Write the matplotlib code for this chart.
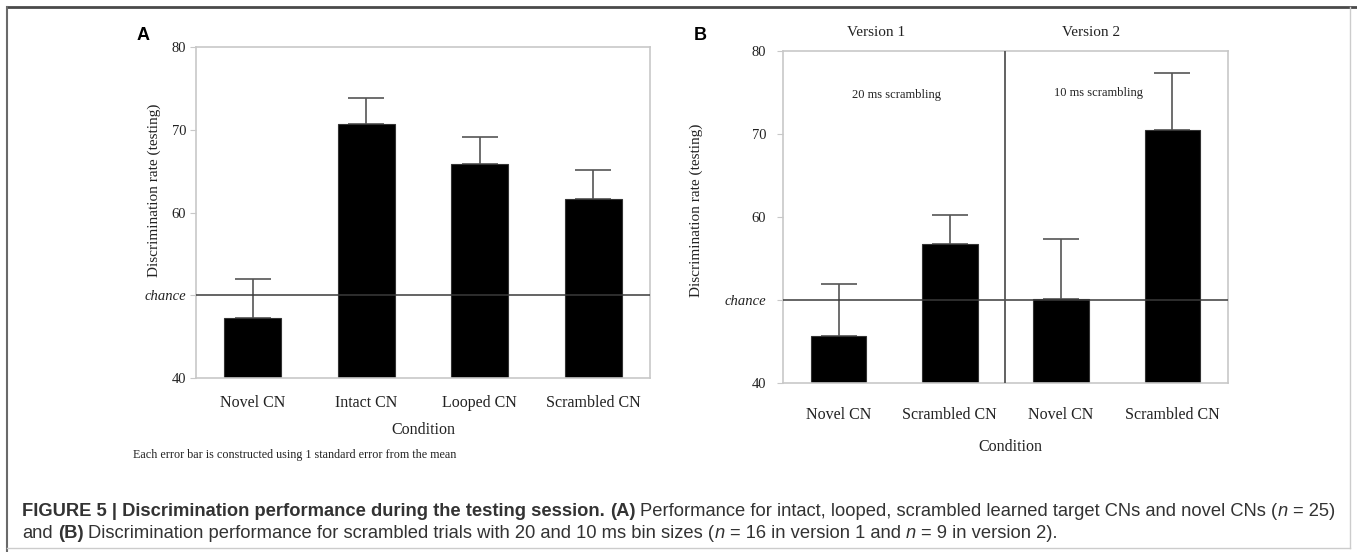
import numpy as np
import matplotlib
matplotlib.use("Agg")
import matplotlib.pyplot as plt
from matplotlib.lines import Line2D
from matplotlib.transforms import IdentityTransform

# --- dados ---
cond_a = ["Novel CN", "Intact CN", "Looped CN", "Scrambled CN"]
mean_a = [47.3, 70.7, 65.9, 61.6]
err_a = [4.7, 3.2, 3.3, 3.5]

cond_b = ["Novel CN", "Scrambled CN", "Novel CN", "Scrambled CN"]
mean_b = [45.7, 56.7, 50.1, 70.5]
err_b = [6.2, 3.5, 7.2, 6.8]

versoes = ["Version 1", "Version 2"]
bins = ["20 ms scrambling", "10 ms scrambling"]

yticks = [40, 50, 60, 70, 80]
ytick_labels = ["40", "chance", "60", "70", "80"]
chance = 50

W, H = 1357, 552
fig = plt.figure(figsize=(W / 100, H / 100), dpi=100)
fig.patch.set_facecolor("white")

serif = "Liberation Serif"
sans = "Liberation Sans"
txt_color = "#222222"


def px(x, y):
    # pixel (origem no topo) -> fração da figura
    return x / W, 1 - y / H


def barras(ax, cond, mean, err, pad_y, pad_x):
    x = np.arange(len(cond))
    ax.errorbar(x, mean, yerr=[np.zeros(len(err)), err], fmt="none",
                ecolor="#555555", elinewidth=1.2, capsize=13, capthick=1.2, zorder=1)
    ax.bar(x, mean, width=0.5, color="black", edgecolor="#333333", linewidth=0.8, zorder=2)
    ax.axhline(chance, color="#3a3a3a", lw=1.1, zorder=3)
    ax.set_xlim(-0.5, len(cond) - 0.5)
    ax.set_ylim(40, 80)
    ax.set_yticks(yticks)
    ax.set_yticklabels(ytick_labels, fontfamily=serif, fontsize=10.5, color=txt_color)
    ax.get_yticklabels()[1].set_fontstyle("italic")
    ax.set_xticks(x)
    ax.set_xticklabels(cond, fontfamily=serif, fontsize=11.5, color=txt_color)
    ax.tick_params(axis="y", length=4, color="#c8c8c8", pad=pad_y)
    ax.tick_params(axis="x", length=0, pad=pad_x)
    for s in ax.spines.values():
        s.set_color("#c8c8c8")
        s.set_linewidth(1.2)


# --- Painel A ---
axA = fig.add_axes([196 / W, 1 - 378 / H, 454 / W, (378 - 47.3) / H])
barras(axA, cond_a, mean_a, err_a, pad_y=3, pad_x=12)

# --- Painel B ---
axB = fig.add_axes([783 / W, 1 - 383 / H, 445 / W, (383 - 50.7) / H])
barras(axB, cond_b, mean_b, err_b, pad_y=8, pad_x=17)
axB.axvline(1.5, color="#555555", lw=1.3, zorder=3)

# textos do painel A
fig.text(*px(143, 36), "A", fontfamily=sans, fontweight="bold", fontsize=13, ha="center", va="center")
fig.text(*px(154, 190), "Discrimination rate (testing)", fontfamily=serif, fontsize=11,
         rotation=90, ha="center", va="center", color=txt_color)
fig.text(*px(423, 430), "Condition", fontfamily=serif, fontsize=11.5, ha="center", va="center", color=txt_color)
fig.text(*px(133, 455), "Each error bar is constructed using 1 standard error from the mean",
         fontfamily=serif, fontsize=8.7, ha="left", va="center", color=txt_color)

# textos do painel B
fig.text(*px(700, 36), "B", fontfamily=sans, fontweight="bold", fontsize=13, ha="center", va="center")
fig.text(*px(696, 210), "Discrimination rate (testing)", fontfamily=serif, fontsize=11,
         rotation=90, ha="center", va="center", color=txt_color)
fig.text(*px(1010, 447), "Condition", fontfamily=serif, fontsize=11.5, ha="center", va="center", color=txt_color)
fig.text(*px(876, 33), versoes[0], fontfamily=serif, fontsize=11, ha="center", va="center", color=txt_color)
fig.text(*px(1091, 32), versoes[1], fontfamily=serif, fontsize=11, ha="center", va="center", color=txt_color)
fig.text(*px(896, 95), bins[0], fontfamily=serif, fontsize=9, ha="center", va="center", color=txt_color)
fig.text(*px(1099, 93), bins[1], fontfamily=serif, fontsize=9, ha="center", va="center", color=txt_color)

# moldura
fig.add_artist(Line2D([7 / W, 1], [1 - 7 / H, 1 - 7 / H], color="#4a4a4a", lw=2))
fig.add_artist(Line2D([7 / W, 7 / W], [0, 1 - 7 / H], color="#6a6a6a", lw=1.5))
fig.add_artist(Line2D([1350 / W, 1350 / W], [1 - 548 / H, 1 - 7 / H], color="#cccccc", lw=1))
fig.add_artist(Line2D([7 / W, 1350 / W], [1 - 548 / H, 1 - 548 / H], color="#cccccc", lw=1))

# legenda da figura (texto com partes em negrito / itálico)
renderer = fig.canvas.get_renderer()
cap_size = 13.2
cap_color = "#333333"


def largura(s, **kw):
    t = fig.text(0, 0, s, fontfamily=sans, fontsize=cap_size, **kw)
    w = t.get_window_extent(renderer).width
    t.remove()
    return w


esp = largura("x x") - largura("xx")


def linha(x, y, partes):
    for s, estilo, espaco in partes:
        if espaco:
            x += esp
        kw = {}
        if estilo == "b":
            kw["fontweight"] = "bold"
        elif estilo == "i":
            kw["fontstyle"] = "italic"
        t = fig.text(x, H - y, s, transform=IdentityTransform(), fontfamily=sans,
                     fontsize=cap_size, color=cap_color, va="center", ha="left", **kw)
        x += t.get_window_extent(renderer).width


linha(22, 511, [
    ("FIGURE 5 | Discrimination performance during the testing session.", "b", False),
    ("(A)", "b", True),
    ("Performance for intact, looped, scrambled learned target CNs and novel CNs (", "n", True),
    ("n", "i", False),
    ("= 25)", "n", True),
])
linha(22, 533, [
    ("and", "n", False),
    ("(B)", "b", True),
    ("Discrimination performance for scrambled trials with 20 and 10 ms bin sizes (", "n", True),
    ("n", "i", False),
    ("= 16 in version 1 and", "n", True),
    ("n", "i", True),
    ("= 9 in version 2).", "n", True),
])

fig.savefig("out.png", dpi=100)
